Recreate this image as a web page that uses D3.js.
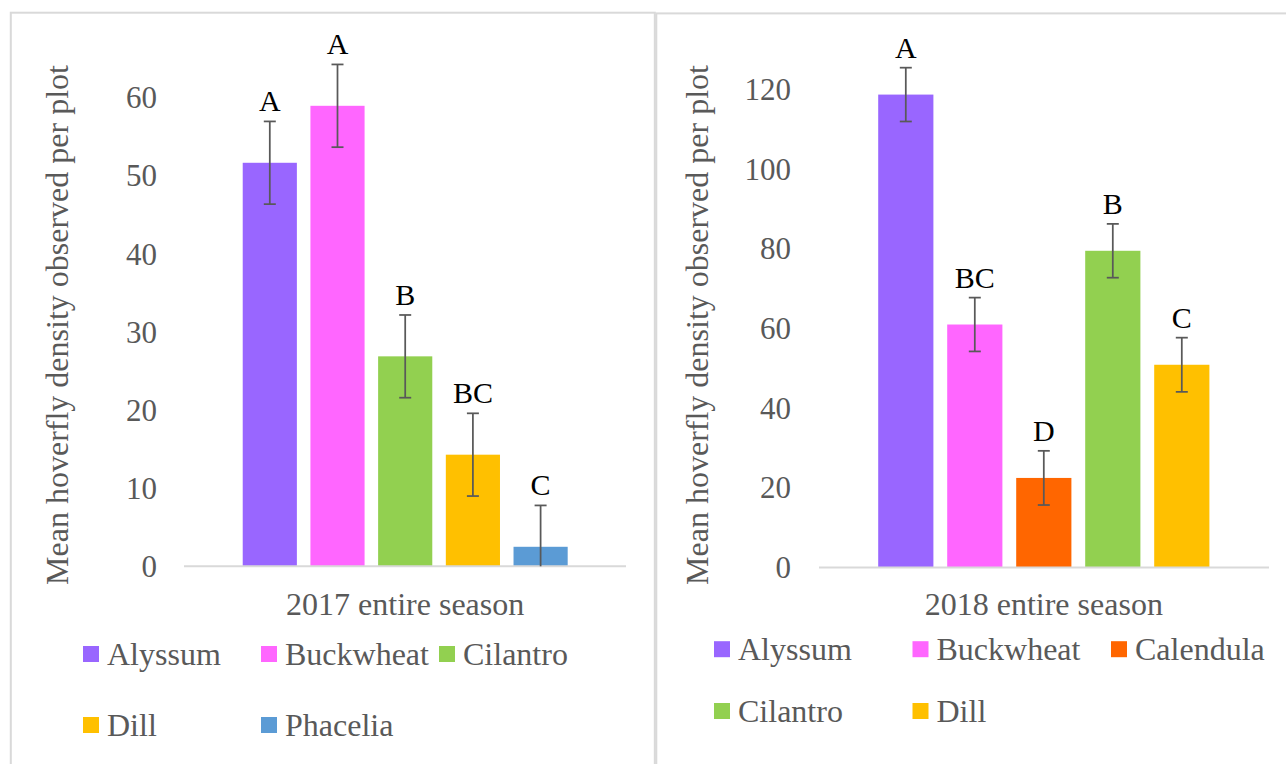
<!DOCTYPE html>
<html>
<head>
<meta charset="utf-8">
<script src="https://cdn.jsdelivr.net/npm/d3@7"></script>
<style>
    body { margin: 0; background: #fff; }
    text { font-family: "Liberation Serif", "Times New Roman", serif; }
</style>
</head>
<body>
<div id="chart"></div>
<script>

// 2017 season
const crops2017 = ["Alyssum", "Buckwheat", "Cilantro", "Dill", "Phacelia"];
const means2017 = [51.7, 59.0, 26.9, 14.3, 2.5];
const se2017 = [5.3, 5.3, 5.3, 5.3, 5.3];
const letters2017 = ["A", "A", "B", "BC", "C"];
const ticks2017 = [0, 10, 20, 30, 40, 50, 60];

// 2018 season
const crops2018 = ["Alyssum", "Buckwheat", "Calendula", "Cilantro", "Dill"];
const means2018 = [118.7, 61.0, 22.5, 79.5, 50.9];
const se2018 = [6.75, 6.75, 6.8, 6.75, 6.8];
const letters2018 = ["A", "BC", "D", "B", "C"];
const ticks2018 = [0, 20, 40, 60, 80, 100, 120];

const allCrops = ["Alyssum", "Buckwheat", "Calendula", "Cilantro", "Dill", "Phacelia"];
const cropColors = d3.scaleOrdinal()
    .domain(allCrops)
    .range(["#9966FF", "#FF66FF", "#FF6600", "#92D050", "#FFC000", "#5B9BD5"]);

const axisTitle = "Mean hoverfly density observed per plot";

const svg = d3.select("#chart").append("svg")
    .attr("width", 1286)
    .attr("height", 764);

class seasonBarChart {

    constructor(_svg, _layout, _crops, _means, _se, _letters, _ticks, _season) {
        this.svg = _svg;
        this.layout = _layout;
        this.season = _season;
        this.ticks = _ticks;
        this.crops = _crops;
        this.displayData = _crops.map((c, i) => ({crop: c, mean: _means[i], se: _se[i], letter: _letters[i]}));

        this.initVis();
    }

    initVis() {
        let vis = this;
        let L = vis.layout;

        vis.g = vis.svg.append("g");

        // panel frame
        vis.g.append("rect")
            .attr("x", L.panelX).attr("y", L.panelY)
            .attr("width", L.panelW).attr("height", 800)
            .attr("fill", "none")
            .attr("stroke", "#D9D9D9")
            .attr("stroke-width", 2);

        vis.y = d3.scaleLinear()
            .domain([0, L.yMax])
            .range([L.base, L.base - L.yMax * L.pxPerUnit]);

        vis.x = d3.scaleBand()
            .domain(vis.crops)
            .range([L.center - L.cluster / 2, L.center + L.cluster / 2])
            .paddingInner(0.2)
            .paddingOuter(0.1);

        // y axis labels only
        let yAxis = d3.axisLeft(vis.y)
            .tickValues(vis.ticks)
            .tickSize(0)
            .tickPadding(L.tickPad);

        let axisG = vis.g.append("g")
            .attr("transform", "translate(" + L.plotLeft + ",0)")
            .call(yAxis);
        axisG.select(".domain").remove();
        axisG.selectAll("text")
            .attr("fill", "#595959")
            .style("font-size", "31px")
            .style("font-family", "'Liberation Serif', 'Times New Roman', serif");

        vis.g.append("text")
            .attr("transform", "translate(" + L.titleX + "," + L.titleY + ") rotate(-90)")
            .attr("text-anchor", "middle")
            .attr("fill", "#595959")
            .style("font-size", "32px")
            .text(axisTitle);

        // bars
        vis.g.selectAll(".bar")
            .data(vis.displayData)
            .enter().append("rect")
            .attr("class", "bar")
            .attr("x", d => vis.x(d.crop))
            .attr("width", vis.x.bandwidth())
            .attr("y", d => vis.y(d.mean))
            .attr("height", d => vis.y(0) - vis.y(d.mean))
            .attr("fill", d => cropColors(d.crop));

        // baseline
        vis.g.append("line")
            .attr("x1", L.plotLeft).attr("x2", L.plotRight)
            .attr("y1", vis.y(0)).attr("y2", vis.y(0))
            .attr("stroke", "#D9D9D9")
            .attr("stroke-width", 2);

        // error bars
        let err = vis.g.selectAll(".err")
            .data(vis.displayData)
            .enter().append("g")
            .attr("class", "err")
            .attr("transform", d => "translate(" + (vis.x(d.crop) + vis.x.bandwidth() / 2) + ",0)")
            .attr("stroke", "#595959")
            .attr("stroke-width", 1.75);

        err.append("line")
            .attr("y1", d => vis.y(d.mean + d.se))
            .attr("y2", d => vis.y(Math.max(0, d.mean - d.se)));
        err.append("line")
            .attr("x1", -6).attr("x2", 6)
            .attr("y1", d => vis.y(d.mean + d.se))
            .attr("y2", d => vis.y(d.mean + d.se));
        err.filter(d => d.mean - d.se > 0).append("line")
            .attr("x1", -6).attr("x2", 6)
            .attr("y1", d => vis.y(d.mean - d.se))
            .attr("y2", d => vis.y(d.mean - d.se));

        // significance letters
        vis.g.selectAll(".letter")
            .data(vis.displayData)
            .enter().append("text")
            .attr("class", "letter")
            .attr("x", d => vis.x(d.crop) + vis.x.bandwidth() / 2)
            .attr("y", d => vis.y(d.mean + d.se) - 10)
            .attr("text-anchor", "middle")
            .attr("fill", "#000")
            .style("font-size", "30px")
            .text(d => d.letter);

        // category label
        vis.g.append("text")
            .attr("x", L.center)
            .attr("y", 615)
            .attr("text-anchor", "middle")
            .attr("fill", "#595959")
            .style("font-size", "32px")
            .text(vis.season);

        // legend
        let legend = vis.g.selectAll(".legend")
            .data(vis.crops)
            .enter().append("g")
            .attr("class", "legend")
            .attr("transform", (d, i) => "translate(" + (L.legendX + (i % 3) * L.legendColStep) + "," + (L.legendY + Math.floor(i / 3) * L.legendRowStep) + ")");

        legend.append("rect")
            .attr("x", 0).attr("y", -8)
            .attr("width", 16).attr("height", 16)
            .attr("fill", d => cropColors(d));

        legend.append("text")
            .attr("x", 24)
            .attr("dy", "0.35em")
            .attr("fill", "#595959")
            .style("font-size", "32px")
            .text(d => d);
    }
}

new seasonBarChart(svg,
    {panelX: 10.8, panelY: 12.7, panelW: 644, plotLeft: 184, plotRight: 626, base: 566.3,
     yMax: 65, pxPerUnit: 7.805, center: 405.2, cluster: 338.5, tickPad: 27,
     titleX: 68, titleY: 325, legendX: 83, legendY: 654, legendColStep: 178, legendRowStep: 71},
    crops2017, means2017, se2017, letters2017, ticks2017, "2017 entire season");

new seasonBarChart(svg,
    {panelX: 656.3, panelY: 13.4, panelW: 700, plotLeft: 819, plotRight: 1269, base: 567.6,
     yMax: 130, pxPerUnit: 3.985, center: 1043.8, cluster: 345, tickPad: 28,
     titleX: 708, titleY: 325, legendX: 714, legendY: 649.2, legendColStep: 198.5, legendRowStep: 61.8},
    crops2018, means2018, se2018, letters2018, ticks2018, "2018 entire season");

</script>
</body>
</html>
